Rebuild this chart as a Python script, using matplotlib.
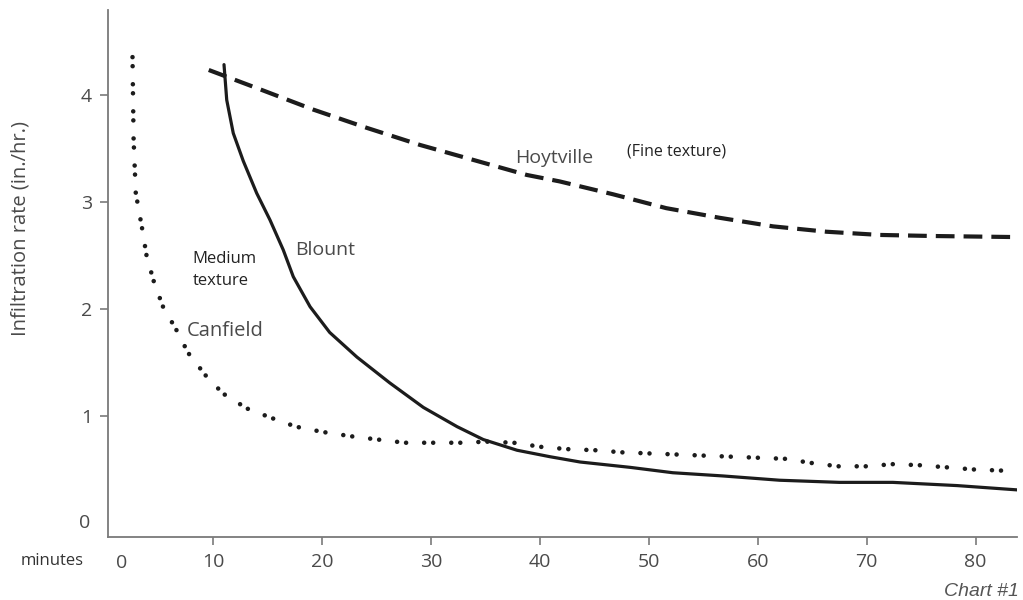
import matplotlib
matplotlib.use("Agg")
import matplotlib.pyplot as plt

plt.rcParams['font.family'] = ['Open Sans', 'DejaVu Sans']
plt.rcParams['lines.scale_dashes'] = False

# Data (minutes, infiltration rate in./hr.)
canfield_x = [2.6, 2.7, 2.9, 3.5, 3.9, 4.6, 5.4, 6.7, 7.7, 9.3, 10.9, 13.1, 15.4, 17.6,
              20.1, 22.7, 25.1, 27.6, 30.1, 32.7, 35.1, 37.6, 40.2, 42.6, 45.1, 47.6,
              50.1, 52.6, 55.0, 57.5, 60.0, 62.5, 65.0, 67.4, 70.0, 72.4, 74.9, 77.4,
              79.9, 82.4, 83.2]
canfield_y = [4.35, 3.58, 3.08, 2.74, 2.49, 2.24, 2.02, 1.79, 1.59, 1.38, 1.21, 1.07, 0.98,
              0.90, 0.85, 0.81, 0.78, 0.75, 0.75, 0.75, 0.76, 0.75, 0.71, 0.69, 0.68, 0.66,
              0.65, 0.64, 0.63, 0.62, 0.61, 0.60, 0.56, 0.53, 0.53, 0.55, 0.54, 0.52, 0.50,
              0.49, 0.48]

blount_x = [11.0, 11.25, 11.85, 12.77, 14.0, 15.22, 16.44, 17.36, 18.9, 20.7, 23.2, 26.2,
            29.3, 32.4, 34.8, 37.9, 40.9, 43.7, 48.3, 52.2, 56.8, 62.0, 67.5, 72.4, 78.3, 83.8]
blount_y = [4.28, 3.95, 3.64, 3.38, 3.08, 2.83, 2.55, 2.30, 2.02, 1.78, 1.55, 1.31,
            1.08, 0.90, 0.78, 0.68, 0.62, 0.57, 0.52, 0.47, 0.44, 0.40, 0.38, 0.38, 0.35, 0.31]

hoyt_x = [9.6, 14.3, 19.2, 24.1, 29.0, 33.9, 38.8, 41.8, 46.7, 51.6, 56.5, 61.4, 66.3,
          71.2, 76.1, 83.8]
hoyt_y = [4.23, 4.05, 3.86, 3.69, 3.53, 3.39, 3.25, 3.19, 3.07, 2.94, 2.85, 2.77, 2.72,
          2.69, 2.68, 2.67]

x_ticks = [10, 20, 30, 40, 50, 60, 70, 80]
y_ticks = [1, 2, 3, 4]

W, H = 1023, 600
fig = plt.figure(figsize=(W / 100, H / 100), dpi=100)
ax = fig.add_axes([108 / W, 1 - 537 / H, (1017 - 108) / W, (537 - 10) / H])

line_col = '#1c1c1c'
text_col = '#4a4a4a'
spine_col = '#7a7a7a'

ax.plot(canfield_x, canfield_y, color=line_col, lw=3.3, solid_capstyle='round',
        dash_capstyle='round', linestyle=(0, (0.01, 6.5, 0.01, 13.0)))
ax.plot(blount_x, blount_y, color=line_col, lw=2.3, solid_capstyle='round',
        solid_joinstyle='round')
ax.plot(hoyt_x, hoyt_y, color=line_col, lw=3.0, dash_capstyle='butt',
        linestyle=(0, (13.5, 6.5)))

ax.set_xlim(0.35, 83.8)
ax.set_ylim(-0.13, 4.79)

for s in ['top', 'right']:
    ax.spines[s].set_visible(False)
for s in ['left', 'bottom']:
    ax.spines[s].set_color(spine_col)
    ax.spines[s].set_linewidth(1.3)

ax.set_xticks(x_ticks)
ax.set_xticklabels([str(v) for v in x_ticks])
ax.set_yticks(y_ticks)
ax.set_yticklabels([str(v) for v in y_ticks])
ax.tick_params(axis='both', direction='out', length=5.5, width=1.2, color=spine_col,
               labelcolor=text_col, labelsize=14)
ax.tick_params(axis='x', pad=6)
ax.tick_params(axis='y', pad=6)

# extra zero labels, positioned as in the reference
fig.text(122 / W, 1 - 563 / H, '0', ha='center', va='center', fontsize=14, color=text_col)
fig.text(90 / W, 1 - 523 / H, '0', ha='right', va='center', fontsize=14, color=text_col)
fig.text(52 / W, 1 - 561 / H, 'minutes', ha='center', va='center', fontsize=12, color='#333333')
fig.text(21 / W, 1 - 228 / H, 'Infiltration rate (in./hr.)', rotation=90, ha='center',
         va='center', fontsize=14.5, color=text_col)
fig.text(1019 / W, 1 - 583 / H, 'Chart #1', ha='right', va='top', fontsize=14,
         color='#555555', style='italic', family=['Liberation Sans'])

ax.text(37.7, 3.41, 'Hoytville', ha='left', va='center', fontsize=14, color=text_col)
ax.text(48.0, 3.47, '(Fine texture)', ha='left', va='center', fontsize=11.5, color='#222222')
ax.text(17.5, 2.55, 'Blount', ha='left', va='center', fontsize=14, color=text_col)
ax.text(8.1, 2.47, 'Medium', ha='left', va='center', fontsize=12, color='#222222')
ax.text(8.1, 2.26, 'texture', ha='left', va='center', fontsize=12, color='#222222')
ax.text(7.6, 1.79, 'Canfield', ha='left', va='center', fontsize=14.5, color=text_col)

fig.savefig('out.png', dpi=100)
